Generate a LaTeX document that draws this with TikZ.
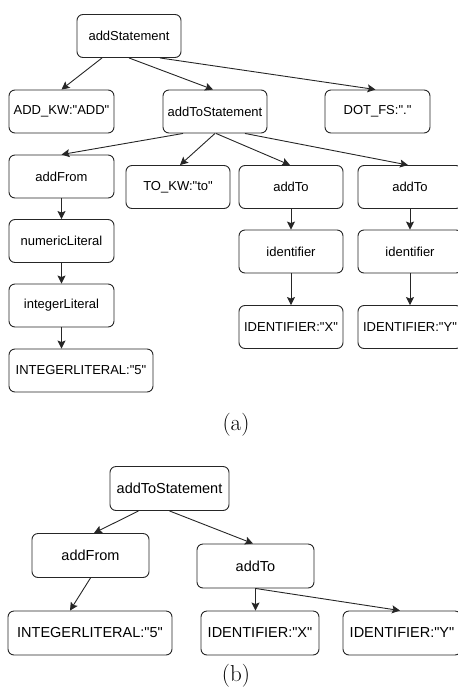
\documentclass[tikz,border=0pt]{standalone}
\usepackage{fontspec}
\newfontfamily\boxfont{Liberation Sans}
\usetikzlibrary{arrows.meta}
\tikzset{
  tnode/.style={draw=black!85, line width=0.9pt, rounded corners=6pt, inner sep=0pt,
    font=\boxfont\fontsize{13}{15}\selectfont, align=center},
  tnodea/.style={tnode, minimum width=104pt, minimum height=43pt},
  tnodeb/.style={tnode, minimum height=44pt, font=\boxfont\fontsize{14.5}{16}\selectfont},
  edge/.style={draw=black!85, line width=0.9pt, -{Stealth[length=8pt,width=8pt,inset=1.5pt]}},
  caption/.style={font=\fontsize{23}{26}\selectfont, inner sep=0pt}
}
\begin{document}
\begin{tikzpicture}[x=1pt, y=-1pt]
\useasboundingbox (0,0) rectangle (458,697);
\clip (0,0) rectangle (458,697);

% (a) full parse tree
\node[tnodea] (stmt)    at (129,36)    {addStatement};
\node[tnodea, minimum width=105pt] (addkw) at (61.5,111.5) {ADD\_KW:"ADD"};
\node[tnodea] (ats)     at (215,111.5) {addToStatement};
\node[tnodea, minimum width=105pt] (dotfs) at (377.5,111.5) {DOT\_FS:"."};
\node[tnodea, minimum width=105pt] (addfrom) at (61.5,176.5) {addFrom};
\node[tnodea, minimum width=105pt] (numlit)  at (61.5,241)   {numericLiteral};
\node[tnodea, minimum width=105pt] (intlit)  at (61.5,305.5) {integerLiteral};
\node[tnodea, minimum width=144pt] (int5)    at (81,370.5)   {INTEGERLITERAL:"5"};
\node[tnodea] (tokw)    at (178,187)   {TO\_KW:"to"};
\node[tnodea] (addtoA)  at (291,187)   {addTo};
\node[tnodea] (addtoB)  at (410,187)   {addTo};
\node[tnodea] (identA)  at (291,251.5) {identifier};
\node[tnodea] (identB)  at (410,251.5) {identifier};
\node[tnodea] (idX)     at (291,327)   {IDENTIFIER:"X"};
\node[tnodea] (idY)     at (410,327)   {IDENTIFIER:"Y"};

\draw[edge] ([xshift=-27pt]stmt.south) -- (addkw.north);
\draw[edge] (stmt.south) -- ([xshift=-2pt]ats.north);
\draw[edge] ([xshift=31pt]stmt.south) -- ([xshift=-2pt]dotfs.north);
\draw[edge] ([xshift=-32pt]ats.south) -- (addfrom.north);
\draw[edge] (ats.south) -- ([xshift=2pt]tokw.north);
\draw[edge] ([xshift=1pt]ats.south) -- ([xshift=-1pt]addtoA.north);
\draw[edge] ([xshift=30pt]ats.south) -- ([xshift=-2pt]addtoB.north);
\draw[edge] (addfrom.south) -- (numlit.north);
\draw[edge] (numlit.south) -- (intlit.north);
\draw[edge] (intlit.south) -- (intlit.south |- int5.north);
\draw[edge] (addtoA.south) -- (identA.north);
\draw[edge] (identA.south) -- (idX.north);
\draw[edge] (addtoB.south) -- (identB.north);
\draw[edge] (identB.south) -- (idY.north);

\node[caption] (capa) at (236,425) {(a)};

% (b) reduced tree
\node[tnodeb, minimum width=119pt] (bats)  at (169.5,488.5) {addToStatement};
\node[tnodeb, minimum width=117pt] (bfrom) at (90.5,555.5)  {addFrom};
\node[tnodeb, minimum width=117pt] (bto)   at (255.5,566)   {addTo};
\node[tnodeb, minimum width=164pt] (b5)    at (90,633)      {INTEGERLITERAL:"5"};
\node[tnodeb, minimum width=118pt] (bX)    at (260,633)     {IDENTIFIER:"X"};
\node[tnodeb, minimum width=118pt] (bY)    at (402,633)     {IDENTIFIER:"Y"};

\draw[edge] ([xshift=-31pt]bats.south) -- ([xshift=3.5pt]bfrom.north);
\draw[edge] (bats.south) -- ([xshift=-2.5pt]bto.north);
\draw[edge] (bfrom.south) -- ([xshift=-20pt]b5.north);
\draw[edge] (bto.south) -- (bto.south |- bX.north);
\draw[edge] (bto.south) -- ([xshift=-2pt]bY.north);

\node[caption] (capb) at (236,676) {(b)};
\end{tikzpicture}
\end{document}
